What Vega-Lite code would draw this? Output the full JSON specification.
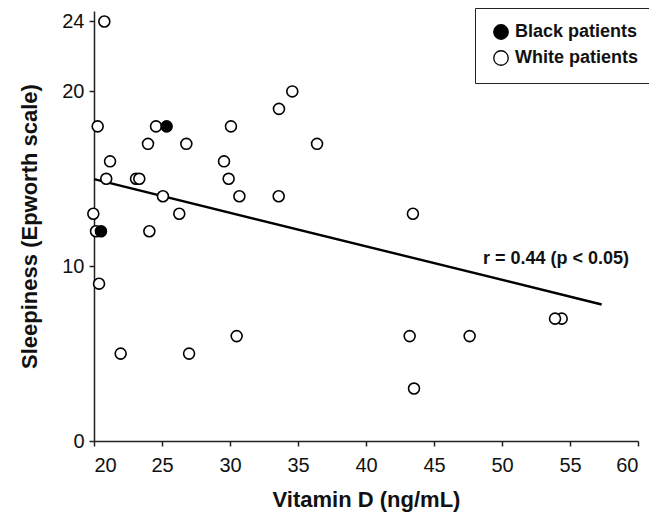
{
  "$schema": "https://vega.github.io/schema/vega-lite/v6.json",
  "width": 544,
  "height": 430,
  "autosize": "none",
  "padding": {"left": 94, "top": 11, "right": 11, "bottom": 82},
  "background": "white",
  "config": {
    "view": {"stroke": null},
    "font": "Liberation Sans",
    "axis": {
      "grid": false,
      "domainColor": "#222222",
      "domainWidth": 1.5,
      "tickColor": "#222222",
      "tickWidth": 1.5,
      "tickSize": 5,
      "labelColor": "#111111",
      "labelFont": "Liberation Sans",
      "labelFontSize": 20,
      "titleFont": "Liberation Sans",
      "titleFontSize": 22,
      "titleFontWeight": "bold",
      "titleColor": "#111111"
    }
  },
  "datasets": {
    "patients": [
      {"vitd": 20.76, "sleep": 24, "group": "White patients"},
      {"vitd": 20.27, "sleep": 18, "group": "White patients"},
      {"vitd": 24.56, "sleep": 18, "group": "White patients"},
      {"vitd": 30.07, "sleep": 18, "group": "White patients"},
      {"vitd": 33.6, "sleep": 19, "group": "White patients"},
      {"vitd": 34.58, "sleep": 20, "group": "White patients"},
      {"vitd": 23.97, "sleep": 17, "group": "White patients"},
      {"vitd": 26.79, "sleep": 17, "group": "White patients"},
      {"vitd": 36.4, "sleep": 17, "group": "White patients"},
      {"vitd": 21.18, "sleep": 16, "group": "White patients"},
      {"vitd": 29.56, "sleep": 16, "group": "White patients"},
      {"vitd": 20.9, "sleep": 15, "group": "White patients"},
      {"vitd": 23.09, "sleep": 15, "group": "White patients"},
      {"vitd": 23.33, "sleep": 15, "group": "White patients"},
      {"vitd": 29.9, "sleep": 15, "group": "White patients"},
      {"vitd": 25.07, "sleep": 14, "group": "White patients"},
      {"vitd": 30.69, "sleep": 14, "group": "White patients"},
      {"vitd": 33.58, "sleep": 14, "group": "White patients"},
      {"vitd": 19.95, "sleep": 13, "group": "White patients"},
      {"vitd": 26.27, "sleep": 13, "group": "White patients"},
      {"vitd": 43.45, "sleep": 13, "group": "White patients"},
      {"vitd": 20.15, "sleep": 12, "group": "White patients"},
      {"vitd": 24.07, "sleep": 12, "group": "White patients"},
      {"vitd": 20.37, "sleep": 9, "group": "White patients"},
      {"vitd": 21.96, "sleep": 5, "group": "White patients"},
      {"vitd": 26.99, "sleep": 5, "group": "White patients"},
      {"vitd": 30.49, "sleep": 6, "group": "White patients"},
      {"vitd": 43.21, "sleep": 6, "group": "White patients"},
      {"vitd": 47.62, "sleep": 6, "group": "White patients"},
      {"vitd": 54.39, "sleep": 7, "group": "White patients"},
      {"vitd": 53.9, "sleep": 7, "group": "White patients"},
      {"vitd": 43.53, "sleep": 3, "group": "White patients"},
      {"vitd": 25.34, "sleep": 18, "group": "Black patients"},
      {"vitd": 20.51, "sleep": 12, "group": "Black patients"}
    ],
    "fit": [
      {"x1": 20.0, "y1": 14.98, "x2": 57.33, "y2": 7.81}
    ],
    "note": [
      {"x": 48.6, "y": 10.1, "label": "r = 0.44 (p < 0.05)"}
    ]
  },
  "layer": [
    {
      "data": {"name": "fit"},
      "mark": {"type": "rule", "color": "black", "strokeWidth": 2.4},
      "encoding": {
        "x": {"field": "x1", "type": "quantitative", "scale": {"domain": [20, 60]},
              "axis": {"values": [20, 25, 30, 35, 40, 45, 50, 55, 60], "labelPadding": 9, "title": "Vitamin D (ng/mL)", "titlePadding": 14}},
        "y": {"field": "y1", "type": "quantitative", "scale": {"domain": [0, 24.6], "nice": false},
              "axis": {"values": [0, 10, 20, 24], "labelPadding": 5, "title": "Sleepiness (Epworth scale)", "titlePadding": 20}},
        "x2": {"field": "x2"},
        "y2": {"field": "y2"}
      }
    },
    {
      "data": {"name": "patients"},
      "mark": {"type": "point", "shape": "circle", "filled": false, "stroke": "black", "strokeWidth": 1.6, "size": 120, "opacity": 1},
      "encoding": {
        "x": {"field": "vitd", "type": "quantitative"},
        "y": {"field": "sleep", "type": "quantitative"},
        "fill": {
          "field": "group", "type": "nominal",
          "scale": {"domain": ["Black patients", "White patients"], "range": ["black", "white"]},
          "legend": {
            "title": null,
            "orient": "none",
            "legendX": 381,
            "legendY": -3,
            "padding": 15,
            "symbolOffset": 2,
            "symbolType": "circle",
            "symbolSize": 210,
            "symbolStrokeColor": "black",
            "symbolStrokeWidth": 1.3,
            "labelFont": "Liberation Sans",
            "labelFontSize": 18,
            "labelFontWeight": "bold",
            "labelColor": "#111111",
            "labelOffset": 5,
            "rowPadding": 6,
            "strokeColor": "#222222",
            "fillColor": "white"
          }
        }
      }
    },
    {
      "data": {"name": "note"},
      "mark": {"type": "text", "align": "left", "baseline": "alphabetic", "font": "Liberation Sans", "fontSize": 18, "fontWeight": "bold", "color": "#111111"},
      "encoding": {
        "x": {"field": "x", "type": "quantitative"},
        "y": {"field": "y", "type": "quantitative"},
        "text": {"field": "label"}
      }
    }
  ]
}
